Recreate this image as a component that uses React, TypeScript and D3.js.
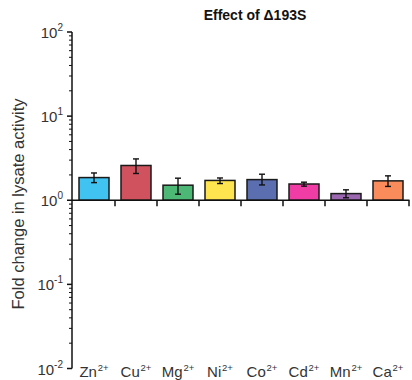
import React from "react";
import * as d3 from "d3";

// Metal ions tested and their fold change in lysate activity
const ions = ["Zn", "Cu", "Mg", "Ni", "Co", "Cd", "Mn", "Ca"];
const charges = ["2+", "2+", "2+", "2+", "2+", "2+", "2+", "2+"];
const foldChange = [1.86, 2.59, 1.51, 1.72, 1.76, 1.56, 1.2, 1.7];
const errLow = [1.62, 2.08, 1.18, 1.58, 1.52, 1.47, 1.07, 1.46];
const errHigh = [2.11, 3.1, 1.83, 1.84, 2.04, 1.64, 1.33, 1.95];
const barColors = [
  "#41c3f2",
  "#d0525e",
  "#4db775",
  "#fee44e",
  "#5a6eb0",
  "#f03da6",
  "#9a67b0",
  "#f98c5a",
];
const yTickExponents = [-2, -1, 0, 1, 2];

const W = 412;
const H = 380;
const FONT = "'Liberation Sans', Arial, Helvetica, sans-serif";

export default function App() {
  const y = d3.scaleLog().domain([0.01, 100]).range([368.5, 32]);
  const x = d3
    .scaleBand<string>()
    .domain(ions)
    .range([73, 409])
    .paddingInner(12 / 42)
    .paddingOuter(6 / 42);

  const axisX = 72;
  const baseY = y(1);
  const step = x.step();
  const x0 = 73;

  // minor ticks for every decade
  const minor: number[] = [];
  for (let e = -2; e < 2; e++) {
    for (let m = 2; m <= 9; m++) minor.push(m * Math.pow(10, e));
  }

  return (
    <svg
      width={W}
      height={H}
      style={{ position: "absolute", left: 0, top: 0, background: "#fff" }}
      fontFamily={FONT}
    >
      <rect width={W} height={H} fill="#fff" />
      <text
        x={255}
        y={20}
        textAnchor="middle"
        fontWeight="bold"
        fontSize={14}
        fill="#111"
      >
        Effect of Δ193S
      </text>

      {/* bars */}
      {ions.map((ion, i) => {
        const bx = x(ion)!;
        const top = y(foldChange[i]);
        return (
          <rect
            key={ion}
            x={bx}
            y={top}
            width={x.bandwidth()}
            height={baseY - top}
            fill={barColors[i]}
            stroke="#1a1a1a"
            strokeWidth={1.5}
          />
        );
      })}

      {/* error bars */}
      {ions.map((ion, i) => {
        const cx = x(ion)! + x.bandwidth() / 2;
        const yh = y(errHigh[i]);
        const yl = y(errLow[i]);
        return (
          <g key={ion + "-err"} stroke="#111" strokeWidth={1.4}>
            <line x1={cx} x2={cx} y1={yh} y2={yl} />
            <line x1={cx - 3} x2={cx + 3} y1={yh} y2={yh} />
            <line x1={cx - 3} x2={cx + 3} y1={yl} y2={yl} />
          </g>
        );
      })}

      {/* x axis at y = 1 */}
      <g stroke="#111" strokeWidth={1.5}>
        <line x1={axisX} x2={409.5} y1={baseY} y2={baseY} />
        {ions.map((ion, i) => {
          const tx = x0 + step * (i + 1);
          return <line key={ion + "-t"} x1={tx} x2={tx} y1={baseY} y2={baseY + 6} />;
        })}
      </g>

      {/* y axis */}
      <g stroke="#111" strokeWidth={1.5}>
        <line x1={axisX} x2={axisX} y1={y(100)} y2={y(0.01)} />
        {yTickExponents.map((e) => (
          <line
            key={"M" + e}
            x1={axisX - 5}
            x2={axisX}
            y1={y(Math.pow(10, e))}
            y2={y(Math.pow(10, e))}
          />
        ))}
      </g>
      <g stroke="#111" strokeWidth={1}>
        {minor.map((v) => (
          <line key={"m" + v} x1={axisX - 3} x2={axisX} y1={y(v)} y2={y(v)} />
        ))}
      </g>

      {/* y tick labels */}
      {yTickExponents.map((e) => (
        <text
          key={"L" + e}
          x={63}
          y={y(Math.pow(10, e)) + 6}
          textAnchor="end"
          fontSize={15}
          fill="#333"
        >
          10
          <tspan fontSize={10} dy={-7}>
            {String(e)}
          </tspan>
        </text>
      ))}

      {/* x tick labels */}
      {ions.map((ion, i) => (
        <text
          key={ion + "-l"}
          x={x(ion)! + x.bandwidth() / 2}
          y={377}
          textAnchor="middle"
          fontSize={15}
          fill="#333"
        >
          {ion}
          <tspan fontSize={9.5} dx={0.8} dy={-6}>
            {charges[i]}
          </tspan>
        </text>
      ))}

      {/* y axis title */}
      <text
        transform={`translate(24,204) rotate(-90)`}
        textAnchor="middle"
        fontSize={16.5}
        fill="#333"
      >
        Fold change in lysate activity
      </text>
    </svg>
  );
}
